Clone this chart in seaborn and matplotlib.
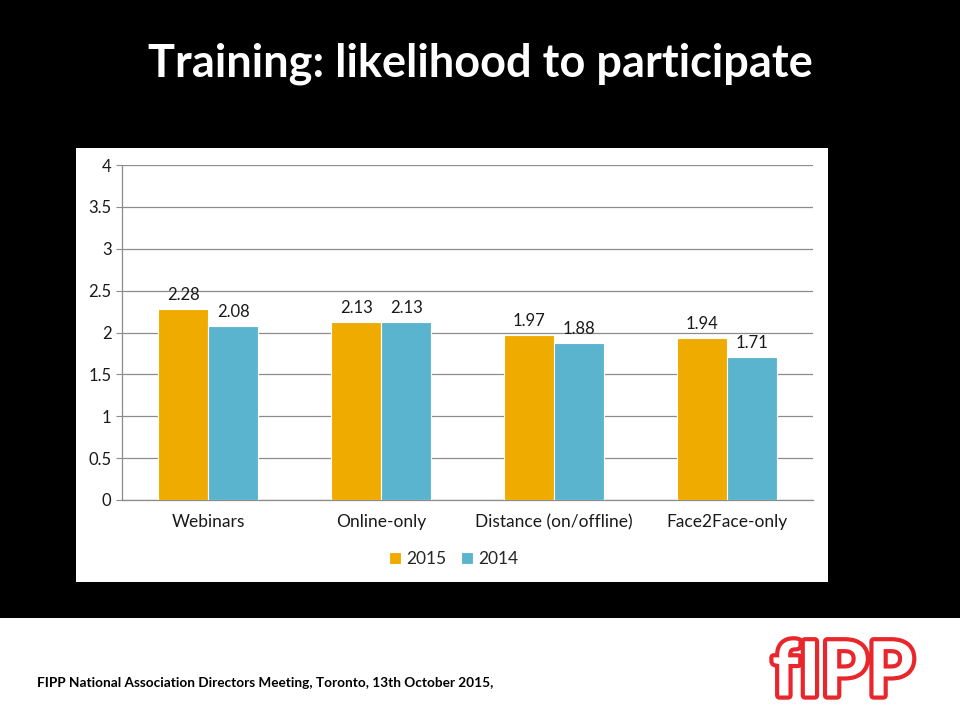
import matplotlib
matplotlib.use("Agg")
import matplotlib.pyplot as plt
import matplotlib.patheffects as pe
import numpy as np
import pandas as pd
import seaborn as sns

categories = ["Webinars", "Online-only", "Distance (on/offline)", "Face2Face-only"]
values_2015 = [2.28, 2.13, 1.97, 1.94]
values_2014 = [2.08, 2.13, 1.88, 1.71]
years = ["2015", "2014"]
y_ticks = [0, 0.5, 1, 1.5, 2, 2.5, 3, 3.5, 4]

df = pd.DataFrame({
    "category": categories * 2,
    "value": values_2015 + values_2014,
    "year": [years[0]] * 4 + [years[1]] * 4,
})

sns.set_style("white")
plt.rcParams["font.family"] = ["Lato", "DejaVu Sans"]

fig = plt.figure(figsize=(9.6, 7.2), dpi=100)
fig.patch.set_facecolor("black")

# white footer band and white chart area
fig.add_artist(plt.Rectangle((0, 0), 1, 102 / 720, transform=fig.transFigure,
                             facecolor="white", edgecolor="none", zorder=0))
fig.add_artist(plt.Rectangle((76 / 960, 1 - 582 / 720), 752 / 960, 434 / 720,
                             transform=fig.transFigure, facecolor="white",
                             edgecolor="none", zorder=0))

ax = fig.add_axes([122 / 960, 1 - 500 / 720, 691 / 960, 335 / 720])
ax.set_facecolor("white")

palette = {"2015": "#F0AB00", "2014": "#5BB4CD"}
sns.barplot(data=df, x="category", y="value", hue="year", palette=palette,
            saturation=1, width=0.58, edgecolor="white", linewidth=0.8,
            ax=ax, zorder=3)

for cont in ax.containers:
    ax.bar_label(cont, labels=[f"{v:.2f}" for v in cont.datavalues],
                 padding=4, fontsize=12, color="#1a1a1a")

ax.set_ylim(0, 4)
ax.set_xlim(-0.5, 3.5)
ax.set_yticks(y_ticks)
ax.set_yticklabels([f"{t:g}" for t in y_ticks], fontsize=12, color="#1a1a1a")
ax.yaxis.grid(True, color="#8c8c8c", linewidth=0.9, zorder=0)
ax.set_axisbelow(True)
ax.tick_params(axis="y", length=4, color="#8c8c8c", direction="out", left=True)
ax.set_xticks(range(4))
ax.set_xticklabels(categories, fontsize=12.5, color="#1a1a1a")
ax.tick_params(axis="x", length=0, pad=10)
ax.set_xticks([-0.5, 0.5, 1.5, 2.5, 3.5], minor=True)
ax.tick_params(axis="x", which="minor", length=5, color="#8c8c8c", direction="out")
ax.set_xlabel("")
ax.set_ylabel("")
for s in ["top", "right"]:
    ax.spines[s].set_visible(False)
for s in ["left", "bottom"]:
    ax.spines[s].set_color("#8c8c8c")
    ax.spines[s].set_linewidth(0.9)

handles, labels = ax.get_legend_handles_labels()
ax.legend(handles, labels, loc="upper center", bbox_to_anchor=(0.48, -0.105),
          ncol=2, frameon=False, fontsize=12.5, handlelength=0.7, handleheight=0.7,
          handletextpad=0.3, columnspacing=0.8)

fig.text(0.5, 1 - 64 / 720, "Training: likelihood to participate", ha="center",
         va="center", color="white", fontsize=32.5, fontweight="bold")

fig.text(37 / 960, 1 - 683 / 720,
         "FIPP National Association Directors Meeting, Toronto, 13th October 2015,",
         ha="left", va="center", color="black", fontsize=9.8, fontweight="bold")

fig.text(843 / 960, 1 - 674 / 720, "fIPP", ha="center", va="center",
         color="white", fontsize=54, fontweight="bold",
         path_effects=[pe.Stroke(linewidth=6, foreground="#E8262B"), pe.Normal()])

fig.savefig("out.png", dpi=100, facecolor=fig.get_facecolor())
